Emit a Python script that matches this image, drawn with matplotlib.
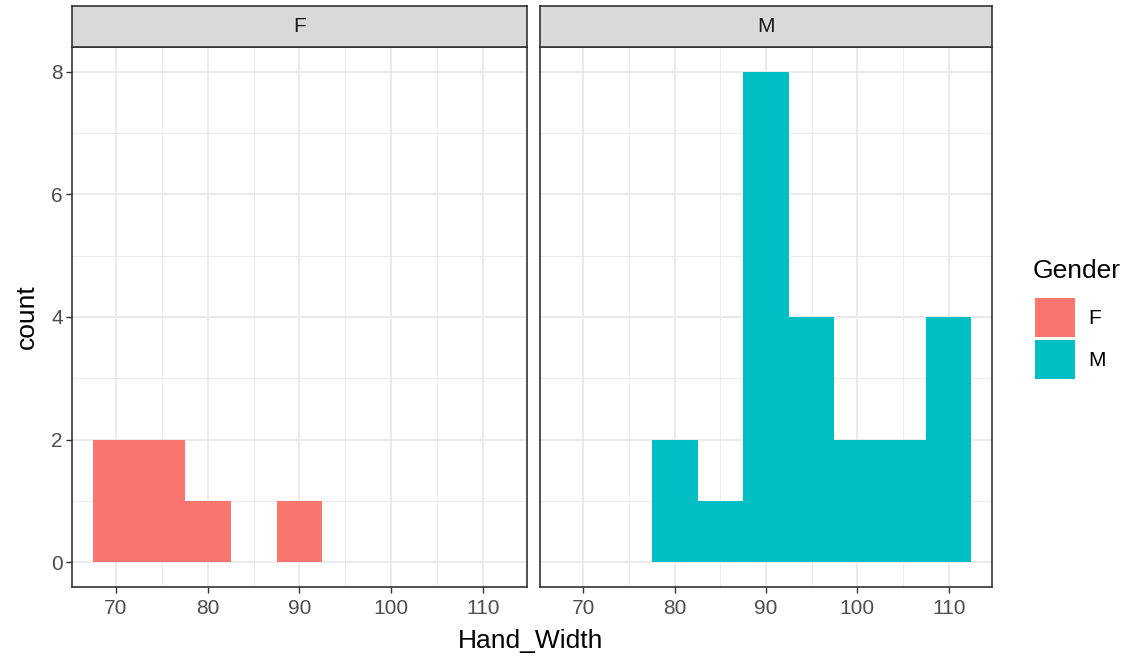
import numpy as np
import matplotlib.pyplot as plt
from matplotlib.patches import Rectangle
from matplotlib.ticker import MultipleLocator

# --- data: histogram counts (binwidth 5) per facet ---
facets = ['F', 'M']
colors = {'F': '#F8766D', 'M': '#00BFC4'}
f_centers = [70, 75, 80, 85, 90]
f_counts = [2, 2, 1, 0, 1]
m_centers = [80, 85, 90, 95, 100, 105, 110]
m_counts = [2, 1, 8, 4, 2, 2, 4]
bin_width = 5
x_ticks = [70, 80, 90, 100, 110]
y_ticks = [0, 2, 4, 6, 8]

plt.rcParams['font.family'] = ['Liberation Sans', 'DejaVu Sans']

W, H = 1138, 658
fig = plt.figure(figsize=(W / 100, H / 100), dpi=100)


def fx(px):
    return px / W


def fy(py):
    return 1 - py / H


panel_top, panel_bot, strip_top = 47, 587, 6
panels = [(72, 527), (540, 992)]
series = {'F': (f_centers, f_counts), 'M': (m_centers, m_counts)}

for i, (name, (x0, x1)) in enumerate(zip(facets, panels)):
    ax = fig.add_axes([fx(x0), fy(panel_bot), fx(x1 - x0), (panel_bot - panel_top) / H])
    ax.set_xlim(65.25, 114.75)
    ax.set_ylim(-0.4, 8.4)
    ax.xaxis.set_minor_locator(MultipleLocator(5))
    ax.yaxis.set_minor_locator(MultipleLocator(1))
    ax.set_xticks(x_ticks)
    ax.set_yticks(y_ticks)
    ax.grid(which='major', color='#EBEBEB', linewidth=1.4, zorder=0)
    ax.grid(which='minor', color='#EBEBEB', linewidth=0.7, zorder=0)
    ax.set_axisbelow(True)
    ax.tick_params(which='minor', length=0)
    ax.tick_params(which='major', length=4, width=1, color='#333333',
                   labelsize=15, labelcolor='#4D4D4D', pad=2.5)
    ax.tick_params(axis='x', pad=5)
    for s in ax.spines.values():
        s.set_color('#333333')
        s.set_linewidth(1.2)
    if i > 0:
        ax.tick_params(axis='y', left=False, labelleft=False)

    centers, counts = series[name]
    ax.bar(centers, counts, width=bin_width, color=colors[name],
           linewidth=0, zorder=2)

    # strip on top of each panel
    sax = fig.add_axes([fx(x0), fy(panel_top), fx(x1 - x0), (panel_top - strip_top) / H])
    sax.set_facecolor('#D9D9D9')
    sax.set_xticks([])
    sax.set_yticks([])
    for s in sax.spines.values():
        s.set_color('#333333')
        s.set_linewidth(1.2)
    sax.text(0.5, 0.5, name, ha='center', va='center', fontsize=15,
             color='#1A1A1A', transform=sax.transAxes)

# axis titles
fig.text(fx(531), fy(641), 'Hand_Width', ha='center', va='center', fontsize=19)
fig.text(fx(27), fy(317), 'count', ha='center', va='center', fontsize=19, rotation=90)

# legend
fig.text(fx(1033), fy(271), 'Gender', ha='left', va='center', fontsize=19)
for j, name in enumerate(facets):
    top = 298 + j * 42
    fig.add_artist(Rectangle((fx(1035), fy(top + 39)), fx(40), 39 / H,
                             transform=fig.transFigure, facecolor=colors[name],
                             edgecolor='none'))
    fig.text(fx(1088), fy(top + 21), name, ha='left', va='center', fontsize=15)

fig.savefig('out.png', dpi=100)
